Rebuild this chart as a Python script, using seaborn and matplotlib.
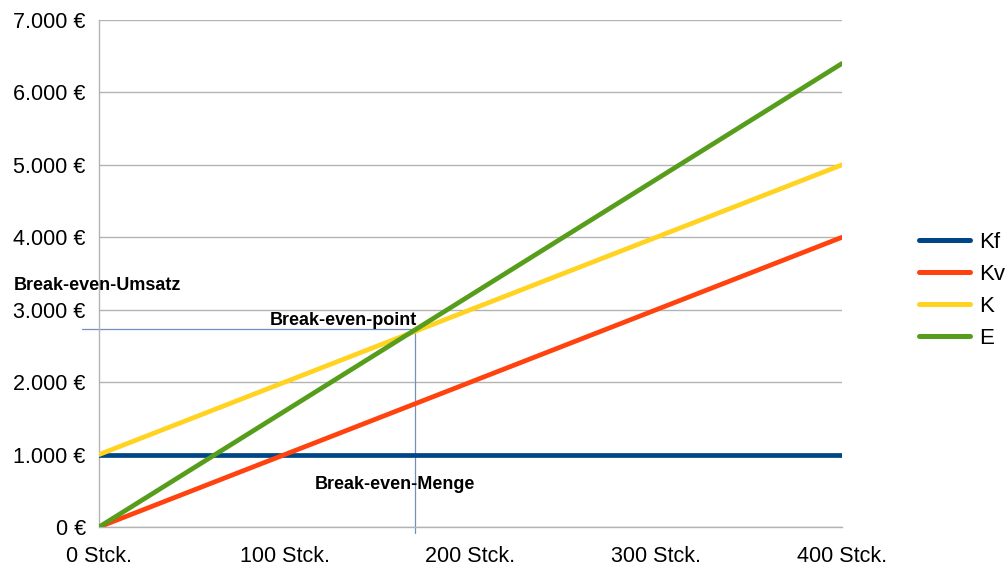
import numpy as np
import pandas as pd
import matplotlib
matplotlib.use("Agg")
import matplotlib.pyplot as plt
import seaborn as sns

# Stückzahlen und Kostenverläufe
menge = [0, 100, 200, 300, 400]
kf = [1000, 1000, 1000, 1000, 1000]
kv = [0, 1000, 2000, 3000, 4000]
k = [1000, 2000, 3000, 4000, 5000]
e = [0, 1600, 3200, 4800, 6400]
series_names = ["Kf", "Kv", "K", "E"]
colors = ["#004586", "#ff420e", "#ffd320", "#579d1c"]

# Break-even-Hilfslinien (wie im Original eingezeichnet)
be_menge = 170
be_umsatz = 2730

x_ticks = [0, 100, 200, 300, 400]
x_labels = ["0 Stck.", "100 Stck.", "200 Stck.", "300 Stck.", "400 Stck."]
y_ticks = [0, 1000, 2000, 3000, 4000, 5000, 6000, 7000]
y_labels = ["0 €", "1.000 €", "2.000 €", "3.000 €", "4.000 €", "5.000 €", "6.000 €", "7.000 €"]

df = pd.DataFrame({"menge": menge, "Kf": kf, "Kv": kv, "K": k, "E": e})
df_long = df.melt(id_vars="menge", var_name="reihe", value_name="wert")

sns.set_style("white")
plt.rcParams["font.family"] = ["Liberation Sans", "DejaVu Sans"]
plt.rcParams["text.color"] = "black"

fig = plt.figure(figsize=(10.08, 5.69), dpi=100)
ax = fig.add_axes([99 / 1008, 42 / 569, 743 / 1008, 507 / 569])

# Hilfslinien zuerst, damit sie unter den Kurven liegen
ax.plot([-9, be_menge], [be_umsatz, be_umsatz], color="#728fbf", lw=0.9, clip_on=False, zorder=1)
ax.plot([be_menge, be_menge], [be_umsatz, -85], color="#728fbf", lw=0.9, clip_on=False, zorder=1)

sns.lineplot(data=df_long, x="menge", y="wert", hue="reihe", hue_order=series_names,
             palette=colors, linewidth=3.4, ax=ax, legend=True, zorder=3)

ax.set_xlim(0, 400)
ax.set_ylim(0, 7000)
ax.set_xticks(x_ticks)
ax.set_xticklabels(x_labels)
ax.set_yticks(y_ticks)
ax.set_yticklabels(y_labels)
ax.set_xlabel("")
ax.set_ylabel("")
ax.tick_params(axis="both", labelsize=15.5, colors="#b3b3b3", labelcolor="black",
               length=6.5, width=1, direction="out")
ax.tick_params(axis="x", pad=7)
ax.tick_params(axis="y", pad=3)
ax.yaxis.grid(True, color="#b3b3b3", lw=1)
ax.xaxis.grid(False)
for side in ["top", "right"]:
    ax.spines[side].set_visible(False)
for side in ["left", "bottom"]:
    ax.spines[side].set_color("#b3b3b3")
    ax.spines[side].set_linewidth(1)

ax.text(-46, 3340, "Break-even-Umsatz", fontsize=13, fontweight="bold", ha="left", va="center")
ax.text(92, 2850, "Break-even-point", fontsize=13, fontweight="bold", ha="left", va="center")
ax.text(116, 590, "Break-even-Menge", fontsize=13, fontweight="bold", ha="left", va="center")

handles, labels = ax.get_legend_handles_labels()
ax.get_legend().remove()
for h in handles:
    h.set_linewidth(3.6)
fig.legend(handles, labels, loc="center left", bbox_to_anchor=(0.912, 0.49),
           frameon=False, fontsize=16, handlelength=2.3, labelspacing=0.5,
           handletextpad=0.4, borderaxespad=0, borderpad=0)

fig.savefig("out.png", dpi=100)
